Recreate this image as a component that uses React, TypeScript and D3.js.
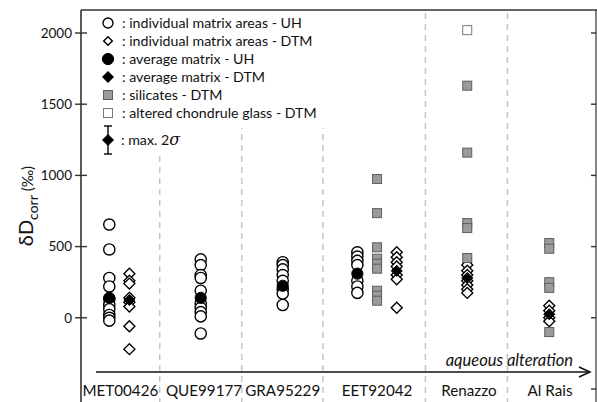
import * as d3 from 'd3';
import React from 'react';

// samples along the x axis (ordered by aqueous alteration)
const samples = ['MET00426', 'QUE99177', 'GRA95229', 'EET92042', 'Renazzo', 'Al Rais'];

// individual matrix areas - UH (δD ‰)
const metUH = [655, 480, 280, 220, 130, 90, 60, 20, 0, -20];
const queUH = [410, 370, 300, 280, 190, 100, 70, 40, 10, -110];
const graUH = [390, 370, 340, 300, 260, 200, 170, 90];
const eetUH = [460, 430, 400, 370, 260, 220, 175];

// individual matrix areas - DTM
const metDTM = [310, 260, 240, 140, 110, 80, -60, -220];
const eetDTM = [460, 425, 390, 360, 300, 270, 70];
const renDTM = [370, 330, 300, 260, 230, 200, 175];
const alrDTM = [85, 50, 0, -25];

// silicates - DTM
const eetSil = [975, 735, 495, 415, 380, 345, 190, 155, 120];
const renSil = [1630, 1160, 665, 630, 420];
const alrSil = [525, 485, 250, 210, -100];

// altered chondrule glass - DTM
const renGlass = [2020];

// average matrix, one per sample (null = none)
const avgUH = [140, 140, 225, 310, null, null];
const avgDTM = [125, null, null, 330, 280, 25];

const yTicks = [0, 500, 1000, 1500, 2000];
const yTicksRight = [-500, 0, 500, 1000, 1500, 2000];

// layout: column units along x
const sampleCenters = [0.48, 1.5, 2.46, 3.61, 4.73, 5.72];
const separators = [0.96, 1.96, 2.95, 4.2, 5.2];

const FONT = 'Lato, "Open Sans", sans-serif';

type Kind = 'circle' | 'diamond' | 'avgCircle' | 'avgDiamond' | 'silicate' | 'glass';
interface Pt { sample: number; off: number; v: number; kind: Kind }

function pts(sample: number, off: number, vals: (number | null)[], kind: Kind): Pt[] {
  return vals.filter(v => v !== null).map(v => ({ sample, off, v: v as number, kind }));
}

const points: Pt[] = [
  ...pts(0, -0.135, metUH, 'circle'),
  ...pts(0, 0.11, metDTM, 'diamond'),
  ...pts(1, -0.04, queUH, 'circle'),
  ...pts(2, 0, graUH, 'circle'),
  ...pts(3, -0.24, eetUH, 'circle'),
  ...pts(3, 0.24, eetDTM, 'diamond'),
  ...pts(3, 0, eetSil, 'silicate'),
  ...pts(4, -0.02, renDTM, 'diamond'),
  ...pts(4, -0.02, renSil, 'silicate'),
  ...pts(4, -0.02, renGlass, 'glass'),
  ...pts(5, -0.01, alrDTM, 'diamond'),
  ...pts(5, -0.01, alrSil, 'silicate'),
];
// averages on top
const avgOff = [[-0.135, 0.11], [-0.04, 0], [0, 0], [-0.24, 0.24], [-0.02, -0.02], [-0.01, -0.01]];
avgUH.forEach((v, i) => { if (v !== null) points.push({ sample: i, off: avgOff[i][0], v, kind: 'avgCircle' }); });
avgDTM.forEach((v, i) => { if (v !== null) points.push({ sample: i, off: avgOff[i][1], v, kind: 'avgDiamond' }); });

const diamondPath = d3.symbol(d3.symbolDiamond2, 77)() as string;
const smallDiamond = d3.symbol(d3.symbolDiamond2, 48)() as string;

function Marker({ kind, cx, cy, small }: { kind: Kind; cx: number; cy: number; small?: boolean }) {
  const t = `translate(${cx},${cy})`;
  switch (kind) {
    case 'circle':
      return <circle cx={cx} cy={cy} r={small ? 5 : 5.6} fill="#fff" stroke="#000" strokeWidth={1.4} />;
    case 'avgCircle':
      return <circle cx={cx} cy={cy} r={5.6} fill="#000" stroke="#000" strokeWidth={1} />;
    case 'diamond':
      return <path transform={t} d={small ? smallDiamond : diamondPath} fill="#fff" stroke="#000" strokeWidth={1.4} />;
    case 'avgDiamond':
      return <path transform={t} d={diamondPath} fill="#000" stroke="#000" strokeWidth={1} />;
    case 'silicate':
      return <rect x={cx - 4.5} y={cy - 4.5} width={9} height={9} fill="#9b9b9b" stroke="#5e5e5e" strokeWidth={1} />;
    case 'glass':
      return <rect x={cx - 4.5} y={cy - 4.5} width={9} height={9} fill="#fff" stroke="#777" strokeWidth={1} />;
  }
}

const legendItems: { kind: Kind; label: string }[] = [
  { kind: 'circle', label: ': individual matrix areas - UH' },
  { kind: 'diamond', label: ': individual matrix areas - DTM' },
  { kind: 'avgCircle', label: ': average matrix - UH' },
  { kind: 'avgDiamond', label: ': average matrix - DTM' },
  { kind: 'silicate', label: ': silicates - DTM' },
  { kind: 'glass', label: ': altered chondrule glass - DTM' },
];

export default function App() {
  const width = 597;
  const height = 402;
  const left = 81;
  const right = 596;
  const top = 10;

  const x = d3.scaleLinear().domain([0, 6.28]).range([left, right]);
  const y = d3.scaleLinear().domain([-500, 2000]).range([389, 33]);

  return (
    <svg width={width} height={height} style={{ position: 'absolute', left: 0, top: 0, fontFamily: FONT }}>
      <rect width={width} height={height} fill="#fff" />

      {/* dashed separators */}
      {separators.map((s, i) => (
        <line key={i} x1={x(s)} x2={x(s)} y1={13} y2={height} stroke="#c4c4c4" strokeWidth={1.5} strokeDasharray="6,5" />
      ))}

      {/* legend background */}
      <rect x={88} y={12} width={242} height={116} fill="#fff" />
      <rect x={88} y={12} width={88} height={140} fill="#fff" />

      {/* frame */}
      <line x1={left} x2={left} y1={top} y2={height} stroke="#333" strokeWidth={1.6} />
      <line x1={left} x2={width} y1={top} y2={top} stroke="#333" strokeWidth={1.6} />
      <line x1={right} x2={right} y1={top} y2={height} stroke="#333" strokeWidth={1.2} />

      {yTicks.map(t => (
        <g key={t}>
          <line x1={left - 6} x2={left + 6} y1={y(t)} y2={y(t)} stroke="#333" strokeWidth={1.4} />
          <text x={left - 9} y={y(t)} dy="0.35em" textAnchor="end" fontSize={13.5} fill="#111">{t}</text>
        </g>
      ))}
      {yTicksRight.map(t => (
        <line key={t} x1={right - 5} x2={right} y1={y(t)} y2={y(t)} stroke="#333" strokeWidth={1.4} />
      ))}

      {/* y axis title */}
      <text transform={`translate(33,206) rotate(-90)`} textAnchor="middle" fill="#111">
        <tspan fontSize={20}>δD</tspan>
        <tspan fontSize={14} dy={5}>corr</tspan>
        <tspan fontSize={15} dy={-5}> (‰)</tspan>
      </text>

      {/* data */}
      {points.map((p, i) => (
        <Marker key={i} kind={p.kind} cx={x(sampleCenters[p.sample] + p.off)} cy={y(p.v)} />
      ))}

      {/* aqueous alteration arrow */}
      <line x1={96} x2={589} y1={372} y2={372} stroke="#111" strokeWidth={1.5} />
      <path d="M579,367 L590,372 L579,377" fill="none" stroke="#111" strokeWidth={1.5} />
      <text x={573} y={366} textAnchor="end" fontSize={16.5} fontStyle="italic" fill="#111">aqueous alteration</text>

      {/* sample labels */}
      {samples.map((s, i) => (
        <text key={s} x={x(sampleCenters[i])} y={396} textAnchor="middle" fontSize={15.2} fill="#111">{s}</text>
      ))}

      {/* legend */}
      {legendItems.map((it, i) => {
        const ly = 23 + i * 18;
        return (
          <g key={it.label}>
            <Marker kind={it.kind} cx={108} cy={ly} small />
            <text x={122} y={ly} dy="0.35em" fontSize={14.2} fill="#111">{it.label}</text>
          </g>
        );
      })}
      <g>
        <line x1={108} x2={108} y1={126} y2={154} stroke="#000" strokeWidth={1.4} />
        <line x1={104} x2={112} y1={126} y2={126} stroke="#000" strokeWidth={1.4} />
        <line x1={104} x2={112} y1={154} y2={154} stroke="#000" strokeWidth={1.4} />
        <Marker kind="avgDiamond" cx={108} cy={140} />
        <text x={121} y={140} dy="0.35em" fontSize={14.2} fill="#111">
          : max. 2<tspan fontStyle="italic" fontFamily="'DejaVu Serif', serif" fontSize={16}>σ</tspan>
        </text>
      </g>
    </svg>
  );
}
